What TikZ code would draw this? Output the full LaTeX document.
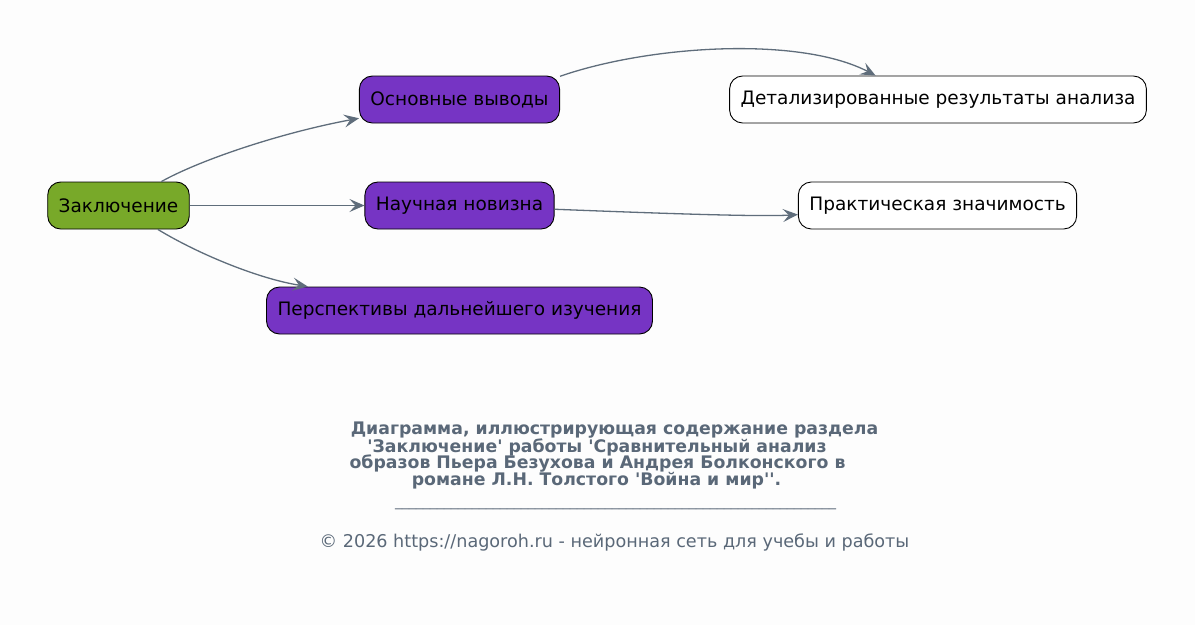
\documentclass[tikz,border=0pt]{standalone}
\usepackage{fontspec}
\setmainfont{DejaVu Sans}[Ligatures=TeXOff]
\usepackage{tikz}
\usetikzlibrary{positioning, calc, arrows.meta}

\definecolor{bgwhite}{HTML}{FDFDFD}
\definecolor{rootgreen}{HTML}{78A929}
\definecolor{midpurple}{HTML}{7634C4}
\definecolor{edgegray}{HTML}{5F6D7B}
\definecolor{titlegray}{HTML}{5A6878}

\tikzset{
	box/.style={draw=black, line width=0.9pt, rounded corners=13pt, minimum height=47pt, inner xsep=11pt, font=\fontsize{18.5}{21}\selectfont, text=black},
	rootbox/.style={box, fill=rootgreen},
	midbox/.style={box, fill=midpurple},
	leafbox/.style={box, fill=white},
	edge/.style={draw=edgegray, line width=1.3pt, -{Stealth[length=15pt, width=13pt, inset=6pt]}},
	titleline/.style={text=titlegray, font=\fontsize{17.3}{17}\selectfont\bfseries}
}

\begin{document}
\begin{tikzpicture}[x=1pt, y=-1pt]
	\useasboundingbox (0,0) rectangle (1195,625);
	\fill [bgwhite] (0,0) rectangle (1195,625);
	
	\node [rootbox] (concl) at (118.5,205.5) {Заключение};
	\node [midbox] (main) at (459.5,99.5) {Основные выводы};
	\node [midbox] (novelty) at (459.5,205.5) {Научная новизна};
	\node [midbox] (persp) at (459.5,310.5) {Перспективы дальнейшего изучения};
	\node [leafbox] (detail) at (938,99.5) {Детализированные результаты анализа};
	\node [leafbox] (practical) at (937.5,205.5) {Практическая значимость};
	
	\draw [edge] (concl) .. controls (200,160) and (280,133) .. (main);
	\draw [edge] (concl) -- (novelty);
	\draw [edge] (concl) .. controls (200,255) and (260,279) .. (persp);
	\draw [edge] (main.13) .. controls (650,45) and (800,36) .. (detail.159);
	\draw [edge] (novelty) .. controls (650,213) and (760,217) .. (practical);
	
	% caption below the diagram
	\node [titleline] (cap1) at (614.5,430) {Диаграмма, иллюстрирующая содержание раздела};
	\node [titleline] (cap2) at (597,447) {'Заключение' работы 'Сравнительный анализ};
	\node [titleline] (cap3) at (597.5,464) {образов Пьера Безухова и Андрея Болконского в};
	\node [titleline] (cap4) at (596.5,481) {романе Л.Н. Толстого 'Война и мир''.};
	\node [text=titlegray, font=\fontsize{14}{17}\selectfont] (rule) at (615.5,508) {\foreach \k in {1,...,63}{\_}};
	\node [text=titlegray, font=\fontsize{17.6}{20}\selectfont] (footer) at (614.5,542) {© 2026 https://nagoroh.ru - нейронная сеть для учебы и работы};
\end{tikzpicture}
\end{document}
